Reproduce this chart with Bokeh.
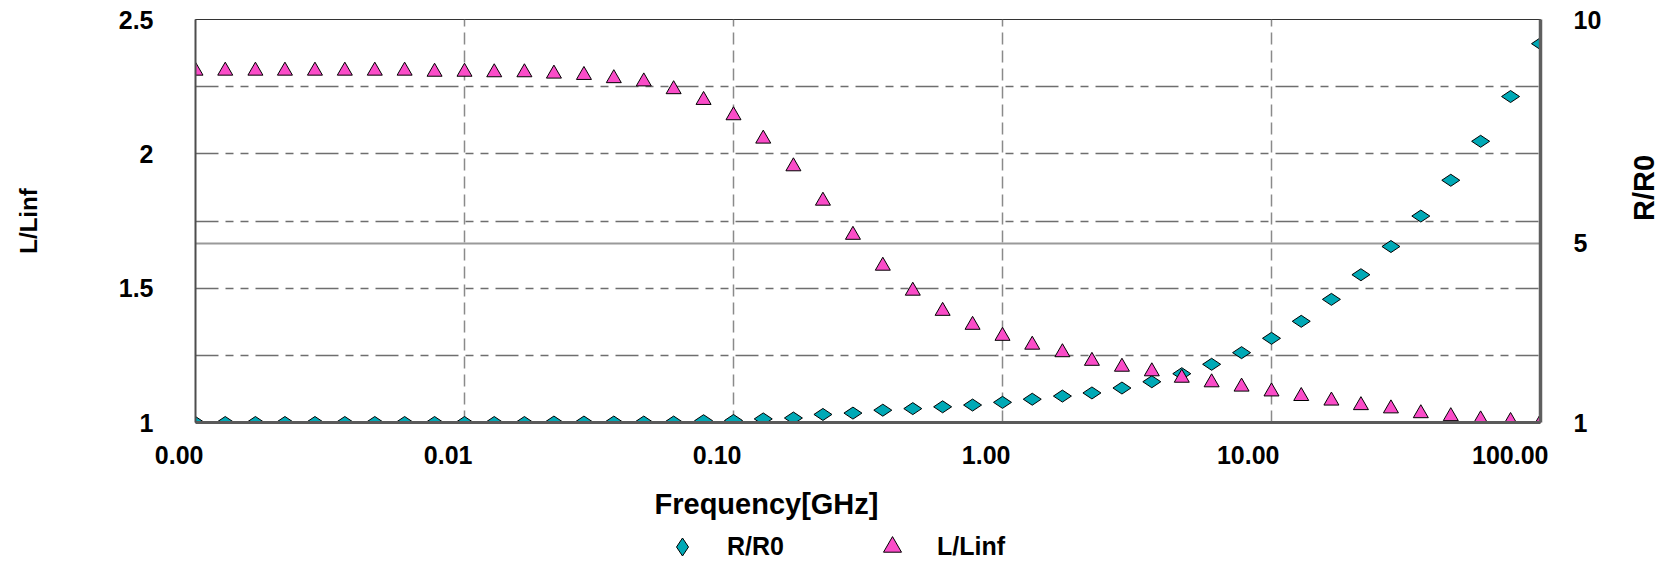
import math
from bokeh.plotting import figure
from bokeh.layouts import column
from bokeh.models import (Range1d, LinearAxis, FixedTicker, Span, Label, LabelSet,
                          ColumnDataSource, Legend, LegendItem)
from bokeh.core.properties import value
from bokeh.embed import file_html
from bokeh.resources import INLINE

# ---------------- data ----------------
freq_ghz = [0.001, 0.00129, 0.00167, 0.00215, 0.00278, 0.00359, 0.00464, 0.00599, 0.00774,
            0.01, 0.0129, 0.0167, 0.0215, 0.0278, 0.0359, 0.0464, 0.0599, 0.0774,
            0.1, 0.129, 0.167, 0.215, 0.278, 0.359, 0.464, 0.599, 0.774,
            1.0, 1.29, 1.67, 2.15, 2.78, 3.59, 4.64, 5.99, 7.74,
            10.0, 12.9, 16.7, 21.5, 27.8, 35.9, 46.4, 59.9, 77.4, 100.0]

r_ratio = [1.0, 1.0, 1.0, 1.0, 1.0, 1.0, 1.0, 1.0, 1.0,
           1.0, 1.0, 1.0, 1.01, 1.01, 1.01, 1.01, 1.01, 1.04,
           1.045, 1.08, 1.10, 1.18, 1.21, 1.275, 1.31, 1.35, 1.39,
           1.45, 1.52, 1.59, 1.66, 1.77, 1.91, 2.09, 2.30, 2.56,
           2.88, 3.26, 3.75, 4.30, 4.93, 5.61, 6.41, 7.28, 8.28, 9.46]

l_ratio = [2.309, 2.309, 2.309, 2.309, 2.309, 2.309, 2.309, 2.309, 2.305,
           2.305, 2.303, 2.303, 2.298, 2.293, 2.281, 2.269, 2.240, 2.200,
           2.143, 2.056, 1.953, 1.825, 1.698, 1.583, 1.490, 1.415, 1.363,
           1.322, 1.289, 1.261, 1.229, 1.207, 1.190, 1.166, 1.149, 1.133,
           1.115, 1.098, 1.081, 1.064, 1.052, 1.034, 1.023, 1.011, 1.005, 1.0]

x_ticks = [0.001, 0.01, 0.1, 1, 10, 100]
x_tick_labels = ["0.00", "0.01", "0.10", "1.00", "10.00", "100.00"]
l_ticks = [1, 1.5, 2, 2.5]
l_tick_labels = ["1", "1.5", "2", "2.5"]
l_grid = [1.25, 1.5, 1.75, 2, 2.25]
r_ticks = [1, 5, 10]
r_major_line = 5

series_names = ["R/R0", "L/Linf"]
x_title = "Frequency[GHz]"

FONT = "Liberation Sans"
TEAL = "#00a9b6"
PINK = "#fa4cc8"

W, H = 1680, 563
FRAME_L, FRAME_R, FRAME_T, FRAME_H = 195, 1540, 19, 403
X_LO, X_HI = 0.001, 100

# can the footer's frame be freed from the main frame's alignment?
_probe = figure(output_backend="svg", toolbar_location=None)
FREE_FOOT = "frame_align" in _probe.properties()

main_bottom = 20 if FREE_FOOT else 58
main_h = FRAME_T + FRAME_H + main_bottom
foot_h = H - main_h

# ---------------- main chart ----------------
fig = figure(width=W, height=main_h, x_axis_type="log",
             x_range=Range1d(X_LO, X_HI), y_range=Range1d(1, 2.5),
             output_backend="svg", toolbar_location=None,
             min_border_left=FRAME_L, min_border_right=W - FRAME_R,
             min_border_top=FRAME_T, min_border_bottom=main_bottom,
             background_fill_color="white", border_fill_color="white",
             outline_line_color="#333333", outline_line_width=1)

fig.extra_y_ranges = {"r": Range1d(1, 10)}

# x axis
xa = fig.xaxis[0]
xa.ticker = FixedTicker(ticks=x_ticks)
xa.major_tick_line_color = None
xa.minor_tick_line_color = None
xa.major_tick_out = 0
xa.major_tick_in = 0
xa.axis_line_color = "#5a5a5a"
xa.axis_line_width = 3
if FREE_FOOT:
    # tick labels are drawn in the footer, right-aligned on their ticks
    xa.major_label_overrides = {t: "" for t in x_ticks}
    xa.major_label_standoff = 0
    xa.major_label_text_font_size = "1px"
else:
    xa.major_label_overrides = dict(zip(x_ticks, x_tick_labels))
    xa.major_label_standoff = 18
    xa.major_label_text_font = FONT
    xa.major_label_text_font_style = "bold"
    xa.major_label_text_font_size = "25px"
    xa.major_label_text_color = "black"

# left axis
ya = fig.yaxis[0]
ya.ticker = FixedTicker(ticks=l_ticks)
ya.major_label_overrides = dict(zip(l_ticks, l_tick_labels))
ya.major_tick_line_color = None
ya.minor_tick_line_color = None
ya.major_tick_out = 0
ya.major_tick_in = 0
ya.major_label_standoff = 42
ya.major_label_text_font = FONT
ya.major_label_text_font_style = "bold"
ya.major_label_text_font_size = "25px"
ya.major_label_text_color = "black"
ya.axis_line_color = "#4d4d4d"
ya.axis_line_width = 2
ya.axis_label = series_names[1]
ya.axis_label_standoff = 74
ya.axis_label_text_font = FONT
ya.axis_label_text_font_style = "bold"
ya.axis_label_text_font_size = "24px"
ya.axis_label_text_color = "black"

# right axis
ra = LinearAxis(y_range_name="r", ticker=FixedTicker(ticks=r_ticks))
ra.major_tick_line_color = None
ra.minor_tick_line_color = None
ra.major_tick_out = 0
ra.major_tick_in = 0
ra.major_label_standoff = 33
ra.major_label_text_font = FONT
ra.major_label_text_font_style = "bold"
ra.major_label_text_font_size = "25px"
ra.major_label_text_color = "black"
ra.axis_line_color = "#5f5f5f"
ra.axis_line_width = 3.5
ra.axis_label = series_names[0]
ra.axis_label_orientation = math.pi / 2
ra.axis_label_standoff = 40
ra.axis_label_text_font = FONT
ra.axis_label_text_font_style = "bold"
ra.axis_label_text_font_size = "29px"
ra.axis_label_text_color = "black"
fig.add_layout(ra, "right")

# grids
fig.xgrid.ticker = FixedTicker(ticks=x_ticks)
fig.xgrid.grid_line_color = "#8a8a8a"
fig.xgrid.grid_line_width = 1.5
fig.xgrid.grid_line_dash = "12 6"
fig.ygrid.ticker = FixedTicker(ticks=l_grid)
fig.ygrid.grid_line_color = "#6e6e6e"
fig.ygrid.grid_line_width = 1.3
fig.ygrid.grid_line_dash = "23 7 8 7 8 7"

fig.add_layout(Span(location=r_major_line, dimension="width", y_range_name="r",
                    line_color="#9a9a9a", line_width=2, level="underlay"))

# data
fig.scatter(freq_ghz, r_ratio, y_range_name="r", marker="diamond",
            size=18, angle=math.pi / 2, fill_color=TEAL,
            line_color="black", line_width=1)
fig.scatter(freq_ghz, l_ratio, marker="triangle", size=15,
            fill_color=PINK, line_color="black", line_width=1)

# ---------------- footer: x tick labels, x-axis title and legend ----------------
if FREE_FOOT:
    # footer frame spans the whole width; its log x range continues the main one
    decade = (FRAME_R - FRAME_L) / math.log10(X_HI / X_LO)
    foot_x = Range1d(X_LO * 10 ** (-FRAME_L / decade), X_HI * 10 ** ((W - FRAME_R) / decade))
    x0 = 0
else:
    foot_x = Range1d(X_LO, X_HI)
    x0 = FRAME_L

# y range lies beyond the data, so the footer's renderers only serve the legend keys
foot = figure(width=W, height=foot_h, x_axis_type="log", x_range=foot_x,
              y_range=Range1d(1000, 2000),
              output_backend="svg", toolbar_location=None,
              x_axis_location=None, y_axis_location=None,
              min_border=0, min_border_left=0, min_border_right=0,
              min_border_top=0, min_border_bottom=0,
              outline_line_color=None, background_fill_color="white",
              border_fill_color="white")
foot.grid.visible = False
if FREE_FOOT:
    foot.frame_align = False

leg_r = foot.scatter(freq_ghz, r_ratio, marker="diamond", size=18, angle=math.pi / 2,
                     fill_color=TEAL, line_color="black", line_width=1)
leg_l = foot.scatter(freq_ghz, l_ratio, marker="triangle", size=18, fill_color=PINK,
                     line_color="black", line_width=1)

if FREE_FOOT:
    tick_src = ColumnDataSource(dict(x=x_ticks, text=x_tick_labels))
    foot.add_layout(LabelSet(x="x", y=foot_h - (454 - main_h), y_units="screen",
                             text="text", source=tick_src,
                             text_align="right", text_baseline="middle", x_offset=8,
                             text_font=value(FONT), text_font_style="bold",
                             text_font_size="25px", text_color="black"))

foot.add_layout(Label(x=654 - x0, y=60, x_units="screen", y_units="screen", text=x_title,
                      text_align="left", text_baseline="middle",
                      text_font=FONT, text_font_style="bold", text_font_size="29px",
                      text_color="black"))

legend = Legend(items=[LegendItem(label=series_names[0], renderers=[leg_r]),
                       LegendItem(label=series_names[1], renderers=[leg_l])],
                orientation="horizontal", location=(654 - x0, -6),
                glyph_width=56, glyph_height=45, label_standoff=17, spacing=80,
                padding=0, margin=0, border_line_color=None,
                background_fill_alpha=0,
                label_text_font=FONT, label_text_font_style="bold",
                label_text_font_size="25px", label_text_color="black")
foot.add_layout(legend)

p = column(fig, foot, spacing=0)

open("out.html", "w").write(file_html(p, INLINE))
